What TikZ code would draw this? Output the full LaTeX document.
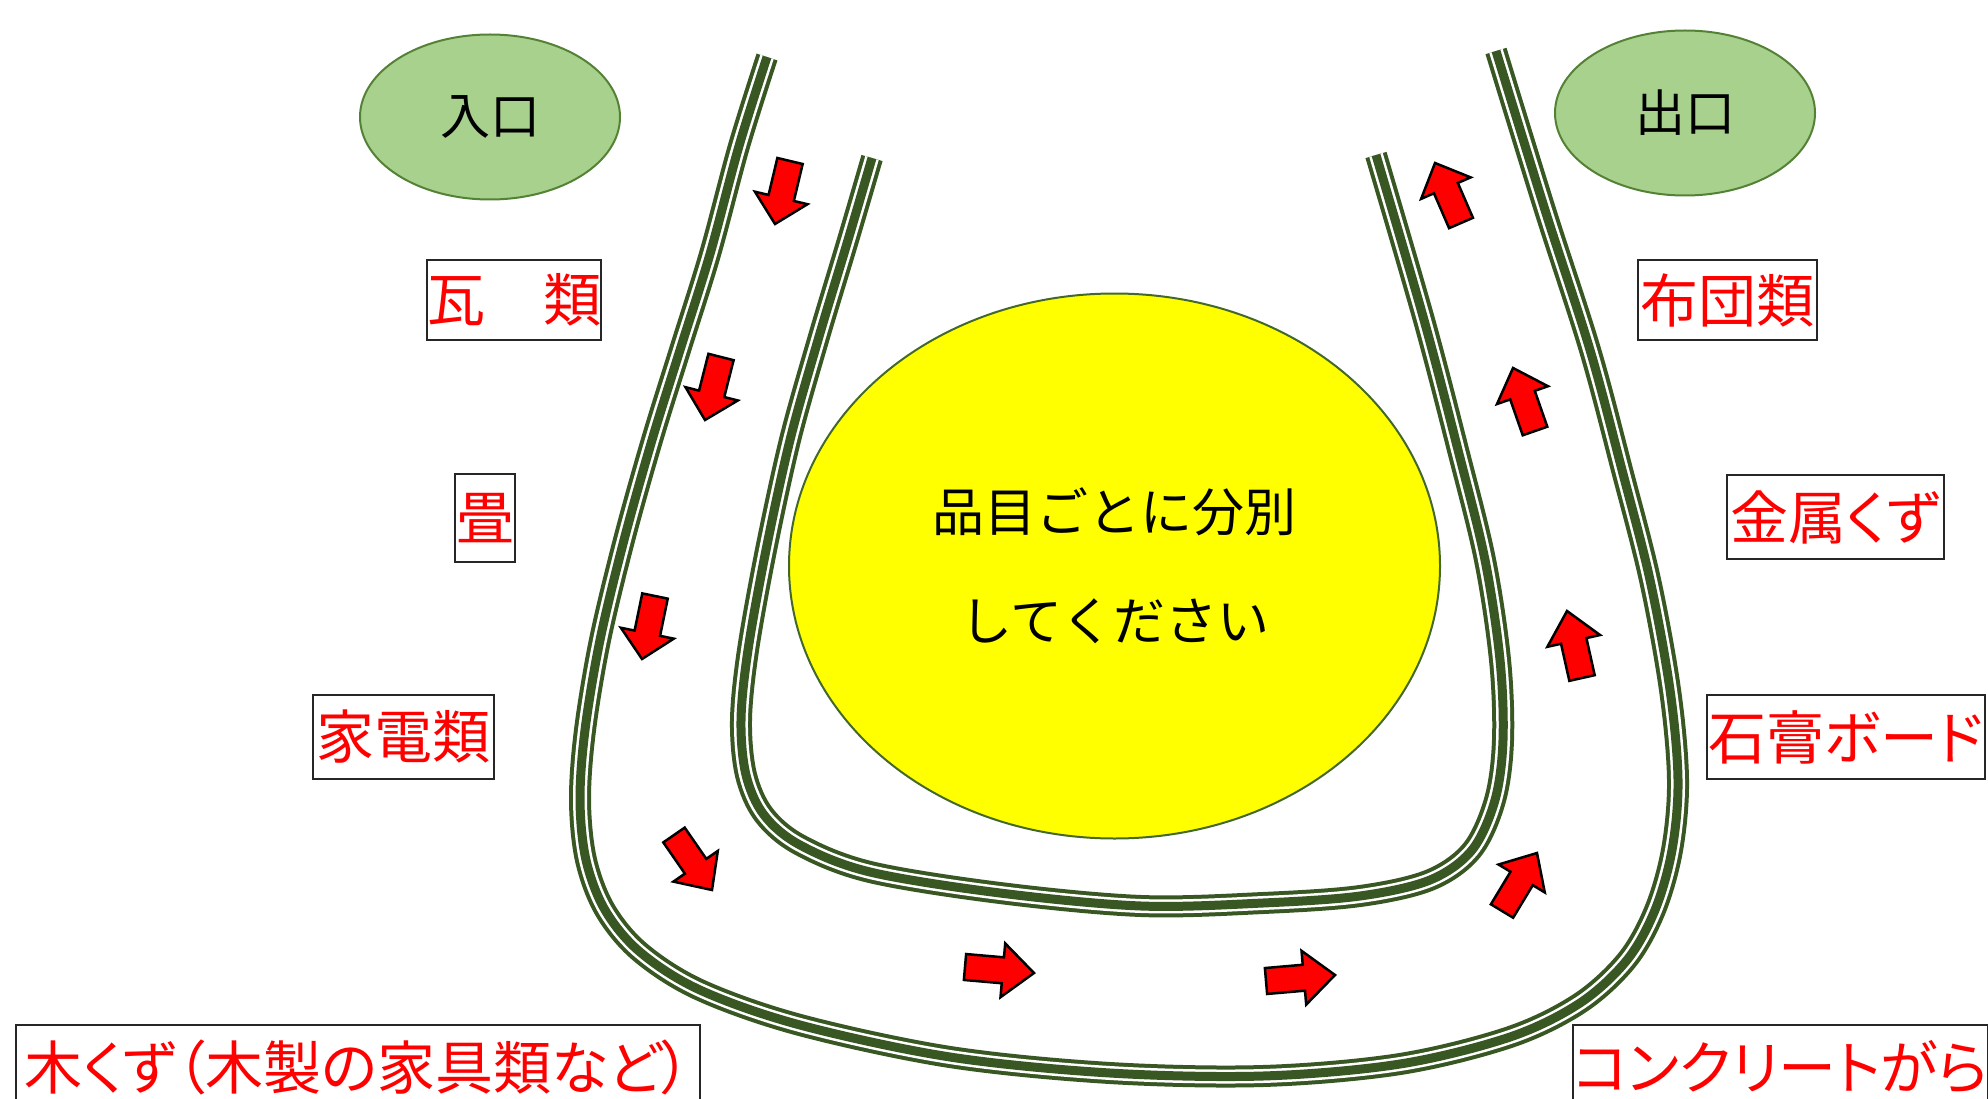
\documentclass[tikz,border=0pt]{standalone}
\usepackage{fontspec}
\newfontfamily\jp{Noto Sans CJK JP}
\newfontfamily\jpp[RawFeature=+palt]{Noto Sans CJK JP}
\usetikzlibrary{calc,shapes.geometric}
\definecolor{trackgreen}{HTML}{385723}
\definecolor{lightgreen}{HTML}{A9D18E}
\definecolor{edgegreen}{HTML}{548235}
\definecolor{arrowred}{HTML}{FF0000}
\definecolor{centeryellow}{HTML}{FFFF00}
\tikzset{
  track/.style={line width=22pt, draw=trackgreen,
    postaction={draw=white, line width=14pt},
    postaction={draw=trackgreen, line width=9pt}},
  gate/.style={ellipse, draw=edgegreen, line width=2pt, fill=lightgreen,
    minimum width=260pt, minimum height=165pt, inner sep=0pt,
    font=\jp\fontsize{50}{50}\selectfont},
  hub/.style={ellipse, draw=edgegreen!80!black, line width=2pt, fill=centeryellow,
    minimum width=651pt, minimum height=545pt, inner sep=0pt, align=center,
    font=\jp\fontsize{52}{109}\selectfont},
  itembox/.style={draw=black!85, line width=2pt, fill=white, text=arrowred,
    inner sep=0pt, font=\jpp\fontsize{58}{58}\selectfont},
  flowarrow/.style={fill=arrowred, draw=black, line width=2.5pt, line join=miter}
}
\newcommand\flowarrow[2]{%
  \filldraw[flowarrow]
   ($(#1)!13pt!90:(#2)$) --
   ($(#1)!38pt!(#2)!13pt!90:(#2)$) --
   ($(#1)!38pt!(#2)!27pt!90:(#2)$) --
   (#2) --
   ($(#1)!38pt!(#2)!27pt!-90:(#2)$) --
   ($(#1)!38pt!(#2)!13pt!-90:(#2)$) --
   ($(#1)!13pt!-90:(#2)$) -- cycle;}
\begin{document}
\begin{tikzpicture}[x=1pt, y=-1pt]
\fill[white] (0,0) rectangle (1988,1099);
\useasboundingbox (0,0) rectangle (1988,1099);

% gates
\node[gate] (entrance) at (490,117) {入口};
\node[gate] (exit) at (1685,113) {出口};

% central ellipse
\node[hub] (hub) at (1114.5,566) {品目ごとに分別\\してください};

% outer track
\draw[track] plot[smooth, tension=0.55] coordinates {
 (767,57) (739,146) (710,254) (680,350) (652,440) (624,540) (600,640)
 (585,730) (580,800) (586,860) (605,910) (640,952) (700,990) (800,1025)
 (950,1057) (1110,1073) (1263,1076) (1400,1064) (1510,1037) (1580,1003)
 (1627,960) (1655,910) (1672,850) (1678,780) (1670,690) (1650,580)
 (1622,470) (1590,350) (1545,210) (1496,51)};

% inner track
\draw[track] plot[smooth, tension=0.55] coordinates {
 (872,158) (848,240) (818,340) (790,440) (766,550) (748,650) (741,720)
 (746,775) (764,815) (800,845) (870,872) (1000,893) (1141,906) (1263,903)
 (1360,896) (1430,880) (1472,850) (1495,800) (1503,740) (1500,660)
 (1485,560) (1458,450) (1424,320) (1376,155)};

% arrows
\coordinate (a1t) at (790,161);  \coordinate (a1h) at (775,224);
\coordinate (a2t) at (721,357);  \coordinate (a2h) at (705,420);
\coordinate (a3t) at (655,596);  \coordinate (a3h) at (642,659);
\coordinate (a4t) at (674,835);  \coordinate (a4h) at (712,890);
\coordinate (a5t) at (965,967);  \coordinate (a5h) at (1034,973);
\coordinate (a6t) at (1266,981); \coordinate (a6h) at (1335,975);
\coordinate (a7t) at (1502,911); \coordinate (a7h) at (1537,853);
\coordinate (a8t) at (1582,678); \coordinate (a8h) at (1567,611);
\coordinate (a9t) at (1535,431); \coordinate (a9h) at (1513,368);
\coordinate (a10t) at (1461,223); \coordinate (a10h) at (1435,163);
\flowarrow{a1t}{a1h}
\flowarrow{a2t}{a2h}
\flowarrow{a3t}{a3h}
\flowarrow{a4t}{a4h}
\flowarrow{a5t}{a5h}
\flowarrow{a6t}{a6h}
\flowarrow{a7t}{a7h}
\flowarrow{a8t}{a8h}
\flowarrow{a9t}{a9h}
\flowarrow{a10t}{a10h}

% item labels
\node[itembox, minimum width=161pt, minimum height=80pt] (kawara) at (514,300) {瓦　類};
\node[itembox, minimum width=60pt, minimum height=88pt] (tatami) at (485,518) {畳};
\node[itembox, minimum width=181pt, minimum height=84pt] (kaden) at (403.5,737) {家電類};
\node[itembox, minimum width=684pt, minimum height=84pt, anchor=north] (mokuzu) at (358,1024) {木くず（木製の家具類など）};
\node[itembox, minimum width=179pt, minimum height=80pt] (futon) at (1727.5,300) {布団類};
\node[itembox, minimum width=217pt, minimum height=84pt] (kinzoku) at (1835.5,517) {金属くず};
\node[itembox, minimum width=278pt, minimum height=84pt] (sekko) at (1846,737) {石膏ボード};
\node[itembox, minimum width=403pt, minimum height=84pt, anchor=north] (concrete) at (1780.5,1024) {コンクリートがら};
\end{tikzpicture}
\end{document}
